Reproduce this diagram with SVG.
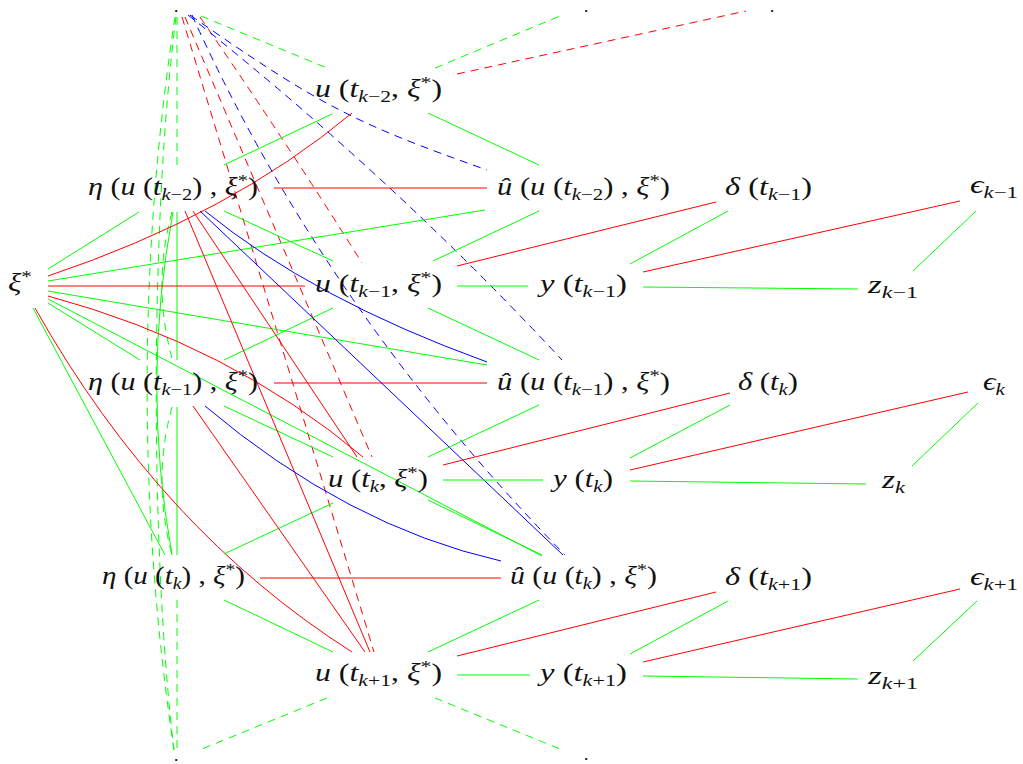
<svg xmlns="http://www.w3.org/2000/svg" width="1023" height="764" viewBox="0 0 1023 764">
<style>
.m{font-family:"Liberation Serif","Times New Roman",serif;font-size:25px;fill:#111111}
.i{font-style:italic}
.s{font-size:17px}
.dot{font-family:"Liberation Serif",serif;font-size:13px;font-weight:bold;fill:#000000}
.e path,.e line{fill:none;stroke-width:1}
.g{stroke:#00ff00}
.r{stroke:#ff0000}
.b{stroke:#0000ff}
.d{stroke-dasharray:8 6}
</style>
<rect width="1023" height="764" fill="#ffffff"/>
<g id="connectors" class="e">
  <line class="g d" x1="201" y1="16" x2="327" y2="68"/>
  <line class="g d" x1="435" y1="68" x2="560" y2="16"/>
  <line class="r d" x1="457" y1="74" x2="746" y2="11"/>
  <line class="g d" x1="327" y1="698" x2="202" y2="749"/>
  <line class="g d" x1="435" y1="698" x2="560" y2="749"/>
  <line class="g d" x1="177" y1="17" x2="177" y2="166"/>
  <line class="g d" x1="177" y1="600" x2="177" y2="750"/>
  <path class="g d" d="M175,17 C138,260 138,510 174,750"/>
  <path class="g d" d="M176,17 C150,220 150,550 174,750"/>
  <path class="g d" d="M172,212 Q152,285 172,358"/>
  <path class="g d" d="M172,407 Q152,480 172,555"/>
  <line class="g" x1="177" y1="212" x2="177" y2="360"/>
  <line class="g" x1="177" y1="407" x2="177" y2="555"/>
  <path class="g" d="M173,212 Q141,383 172,555"/>
  <path class="r d" d="M200,17 Q285,140 362,263"/>
  <line class="r d" x1="185" y1="17" x2="372" y2="457"/>
  <line class="r d" x1="182" y1="17" x2="374" y2="652"/>
  <path class="b d" d="M190,15 C320,106 357,124 487,170"/>
  <path class="b d" d="M188,15 Q390,175 562,360"/>
  <path class="b d" d="M192,15 Q325,310 565,555"/>
  <line class="g" x1="48" y1="269" x2="139" y2="212"/>
  <path class="r" d="M48,276 Q230,215 352,113"/>
  <line class="g" x1="48" y1="281" x2="485" y2="210"/>
  <line class="r" x1="48" y1="286" x2="305" y2="286"/>
  <line class="g" x1="48" y1="291" x2="487" y2="365"/>
  <path class="r" d="M48,296 Q230,345 363,457"/>
  <line class="g" x1="48" y1="299" x2="542" y2="556"/>
  <line class="g" x1="48" y1="303" x2="140" y2="360"/>
  <line class="g" x1="33" y1="308" x2="165" y2="555"/>
  <path class="r" d="M35,308 Q160,530 352,652"/>
  <line class="g" x1="332" y1="114" x2="224" y2="165"/>
  <line class="g" x1="224" y1="211" x2="333" y2="261"/>
  <line class="g" x1="333" y1="308" x2="224" y2="360"/>
  <line class="g" x1="224" y1="406" x2="333" y2="457"/>
  <line class="g" x1="333" y1="503" x2="224" y2="554"/>
  <line class="g" x1="224" y1="600" x2="333" y2="652"/>
  <line class="r" x1="274" y1="188" x2="487" y2="188"/>
  <line class="r" x1="274" y1="383" x2="487" y2="383"/>
  <line class="r" x1="260" y1="578" x2="501" y2="578"/>
  <line class="r" x1="185" y1="211" x2="370" y2="652"/>
  <line class="r" x1="193" y1="211" x2="357" y2="457"/>
  <line class="r" x1="193" y1="406" x2="365" y2="652"/>
  <line class="b" x1="200" y1="211" x2="563" y2="555"/>
  <path class="b" d="M205,211 Q313,299 487,362"/>
  <path class="b" d="M205,406 Q347,526 501,561"/>
  <line class="g" x1="428" y1="113" x2="539" y2="165"/>
  <line class="g" x1="539" y1="211" x2="433" y2="261"/>
  <line class="g" x1="428" y1="308" x2="539" y2="360"/>
  <line class="g" x1="539" y1="405" x2="428" y2="457"/>
  <line class="g" x1="428" y1="500" x2="542" y2="555"/>
  <line class="g" x1="539" y1="600" x2="428" y2="652"/>
  <line class="g" x1="457" y1="286" x2="528" y2="286"/>
  <line class="r" x1="457" y1="266" x2="716" y2="202"/>
  <line class="g" x1="728" y1="211" x2="630" y2="264"/>
  <line class="r" x1="643" y1="272" x2="960" y2="201"/>
  <line class="g" x1="976" y1="211" x2="913" y2="271"/>
  <line class="g" x1="643" y1="287" x2="858" y2="289"/>
  <line class="g" x1="443" y1="480" x2="543" y2="480"/>
  <line class="r" x1="443" y1="465" x2="730" y2="393"/>
  <line class="g" x1="730" y1="405" x2="630" y2="458"/>
  <line class="r" x1="630" y1="470" x2="968" y2="392"/>
  <line class="g" x1="978" y1="403" x2="912" y2="466"/>
  <line class="g" x1="630" y1="481" x2="866" y2="484"/>
  <line class="g" x1="457" y1="675" x2="530" y2="675"/>
  <line class="r" x1="457" y1="656" x2="716" y2="592"/>
  <line class="g" x1="728" y1="601" x2="630" y2="654"/>
  <line class="r" x1="643" y1="662" x2="960" y2="589"/>
  <line class="g" x1="977" y1="601" x2="913" y2="661"/>
  <line class="g" x1="643" y1="676" x2="858" y2="679"/>
</g>
<g id="dot-top-left"><text class="dot" x="176" y="12" text-anchor="middle">.</text></g>
<g id="dot-top-mid"><text class="dot" x="586" y="12" text-anchor="middle">.</text></g>
<g id="dot-top-right"><text class="dot" x="772" y="12" text-anchor="middle">.</text></g>
<g id="dot-bottom-left"><text class="dot" x="176" y="761" text-anchor="middle">.</text></g>
<g id="dot-bottom-right"><text class="dot" x="586" y="760" text-anchor="middle">.</text></g>
<g id="u-km2"><text class="m" x="315" y="97" textLength="127" lengthAdjust="spacingAndGlyphs"><tspan class="i">u</tspan> (<tspan class="i">t</tspan><tspan class="s" dy="5"><tspan class="i">k</tspan>−2</tspan><tspan dy="-5">, </tspan><tspan class="i">ξ</tspan><tspan class="s" dy="-9">*</tspan><tspan dy="9">)</tspan></text></g>
<g id="eta-km2"><text class="m" x="88" y="195" textLength="170" lengthAdjust="spacingAndGlyphs"><tspan class="i">η</tspan> (<tspan class="i">u</tspan> (<tspan class="i">t</tspan><tspan class="s" dy="5"><tspan class="i">k</tspan>−2</tspan><tspan dy="-5">) , </tspan><tspan class="i">ξ</tspan><tspan class="s" dy="-9">*</tspan><tspan dy="9">)</tspan></text></g>
<g id="uhat-km2"><text class="m" x="497" y="195" textLength="173" lengthAdjust="spacingAndGlyphs"><tspan class="i">û</tspan> (<tspan class="i">u</tspan> (<tspan class="i">t</tspan><tspan class="s" dy="5"><tspan class="i">k</tspan>−2</tspan><tspan dy="-5">) , </tspan><tspan class="i">ξ</tspan><tspan class="s" dy="-9">*</tspan><tspan dy="9">)</tspan></text></g>
<g id="delta-km1"><text class="m" x="725" y="195" textLength="87" lengthAdjust="spacingAndGlyphs"><tspan class="i">δ</tspan> (<tspan class="i">t</tspan><tspan class="s" dy="5"><tspan class="i">k</tspan>−1</tspan><tspan dy="-5">)</tspan></text></g>
<g id="eps-km1"><text class="m" x="970" y="193" textLength="48" lengthAdjust="spacingAndGlyphs"><tspan class="i">ϵ</tspan><tspan class="s" dy="5"><tspan class="i">k</tspan>−1</tspan></text></g>
<g id="xi"><text class="m" x="8" y="291" textLength="24" lengthAdjust="spacingAndGlyphs"><tspan class="i">ξ</tspan><tspan class="s" dy="-9">*</tspan></text></g>
<g id="u-km1"><text class="m" x="315" y="292" textLength="127" lengthAdjust="spacingAndGlyphs"><tspan class="i">u</tspan> (<tspan class="i">t</tspan><tspan class="s" dy="5"><tspan class="i">k</tspan>−1</tspan><tspan dy="-5">, </tspan><tspan class="i">ξ</tspan><tspan class="s" dy="-9">*</tspan><tspan dy="9">)</tspan></text></g>
<g id="y-km1"><text class="m" x="540" y="292" textLength="87" lengthAdjust="spacingAndGlyphs"><tspan class="i">y</tspan> (<tspan class="i">t</tspan><tspan class="s" dy="5"><tspan class="i">k</tspan>−1</tspan><tspan dy="-5">)</tspan></text></g>
<g id="z-km1"><text class="m" x="868" y="293" textLength="50" lengthAdjust="spacingAndGlyphs"><tspan class="i">z</tspan><tspan class="s" dy="5"><tspan class="i">k</tspan>−1</tspan></text></g>
<g id="eta-km1"><text class="m" x="88" y="390" textLength="170" lengthAdjust="spacingAndGlyphs"><tspan class="i">η</tspan> (<tspan class="i">u</tspan> (<tspan class="i">t</tspan><tspan class="s" dy="5"><tspan class="i">k</tspan>−1</tspan><tspan dy="-5">) , </tspan><tspan class="i">ξ</tspan><tspan class="s" dy="-9">*</tspan><tspan dy="9">)</tspan></text></g>
<g id="uhat-km1"><text class="m" x="497" y="390" textLength="173" lengthAdjust="spacingAndGlyphs"><tspan class="i">û</tspan> (<tspan class="i">u</tspan> (<tspan class="i">t</tspan><tspan class="s" dy="5"><tspan class="i">k</tspan>−1</tspan><tspan dy="-5">) , </tspan><tspan class="i">ξ</tspan><tspan class="s" dy="-9">*</tspan><tspan dy="9">)</tspan></text></g>
<g id="delta-k"><text class="m" x="738" y="390" textLength="60" lengthAdjust="spacingAndGlyphs"><tspan class="i">δ</tspan> (<tspan class="i">t</tspan><tspan class="s i" dy="5">k</tspan><tspan dy="-5">)</tspan></text></g>
<g id="eps-k"><text class="m" x="983" y="390" textLength="22" lengthAdjust="spacingAndGlyphs"><tspan class="i">ϵ</tspan><tspan class="s i" dy="5">k</tspan></text></g>
<g id="u-k"><text class="m" x="328" y="487" textLength="100" lengthAdjust="spacingAndGlyphs"><tspan class="i">u</tspan> (<tspan class="i">t</tspan><tspan class="s i" dy="5">k</tspan><tspan dy="-5">, </tspan><tspan class="i">ξ</tspan><tspan class="s" dy="-9">*</tspan><tspan dy="9">)</tspan></text></g>
<g id="y-k"><text class="m" x="553" y="487" textLength="60" lengthAdjust="spacingAndGlyphs"><tspan class="i">y</tspan> (<tspan class="i">t</tspan><tspan class="s i" dy="5">k</tspan><tspan dy="-5">)</tspan></text></g>
<g id="z-k"><text class="m" x="882" y="488" textLength="23" lengthAdjust="spacingAndGlyphs"><tspan class="i">z</tspan><tspan class="s i" dy="5">k</tspan></text></g>
<g id="eta-k"><text class="m" x="102" y="584" textLength="143" lengthAdjust="spacingAndGlyphs"><tspan class="i">η</tspan> (<tspan class="i">u</tspan> (<tspan class="i">t</tspan><tspan class="s i" dy="5">k</tspan><tspan dy="-5">) , </tspan><tspan class="i">ξ</tspan><tspan class="s" dy="-9">*</tspan><tspan dy="9">)</tspan></text></g>
<g id="uhat-k"><text class="m" x="510" y="584" textLength="147" lengthAdjust="spacingAndGlyphs"><tspan class="i">û</tspan> (<tspan class="i">u</tspan> (<tspan class="i">t</tspan><tspan class="s i" dy="5">k</tspan><tspan dy="-5">) , </tspan><tspan class="i">ξ</tspan><tspan class="s" dy="-9">*</tspan><tspan dy="9">)</tspan></text></g>
<g id="delta-kp1"><text class="m" x="725" y="585" textLength="87" lengthAdjust="spacingAndGlyphs"><tspan class="i">δ</tspan> (<tspan class="i">t</tspan><tspan class="s" dy="5"><tspan class="i">k</tspan>+1</tspan><tspan dy="-5">)</tspan></text></g>
<g id="eps-kp1"><text class="m" x="970" y="585" textLength="48" lengthAdjust="spacingAndGlyphs"><tspan class="i">ϵ</tspan><tspan class="s" dy="5"><tspan class="i">k</tspan>+1</tspan></text></g>
<g id="u-kp1"><text class="m" x="315" y="681" textLength="127" lengthAdjust="spacingAndGlyphs"><tspan class="i">u</tspan> (<tspan class="i">t</tspan><tspan class="s" dy="5"><tspan class="i">k</tspan>+1</tspan><tspan dy="-5">, </tspan><tspan class="i">ξ</tspan><tspan class="s" dy="-9">*</tspan><tspan dy="9">)</tspan></text></g>
<g id="y-kp1"><text class="m" x="540" y="681" textLength="87" lengthAdjust="spacingAndGlyphs"><tspan class="i">y</tspan> (<tspan class="i">t</tspan><tspan class="s" dy="5"><tspan class="i">k</tspan>+1</tspan><tspan dy="-5">)</tspan></text></g>
<g id="z-kp1"><text class="m" x="868" y="684" textLength="50" lengthAdjust="spacingAndGlyphs"><tspan class="i">z</tspan><tspan class="s" dy="5"><tspan class="i">k</tspan>+1</tspan></text></g>
</svg>
